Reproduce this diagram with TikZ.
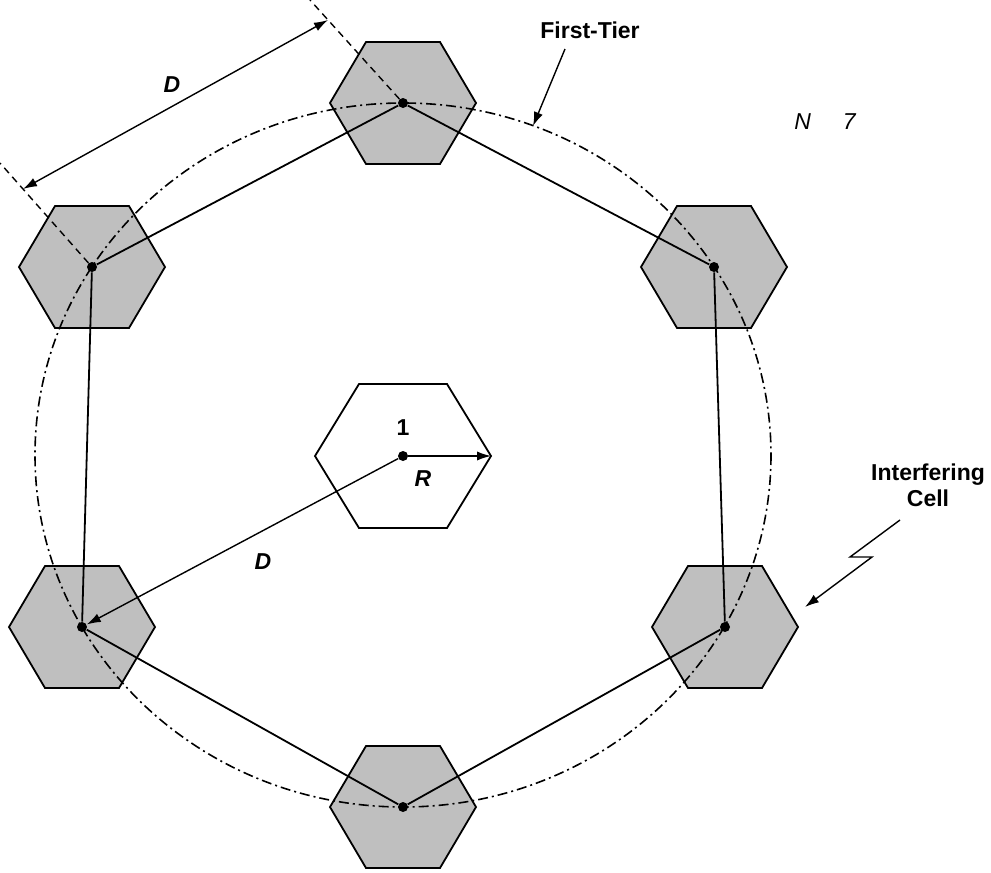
\documentclass[tikz,border=0pt]{standalone}
\usepackage{fontspec}
\setsansfont{Liberation Sans}
\usetikzlibrary{arrows.meta}

\begin{document}
\begin{tikzpicture}[x=0.5pt,y=-0.5pt,
	cell/.style={draw,line width=.9pt,fill=black!25},
	site/.style={circle,fill=black,inner sep=0pt,minimum size=5pt},
	link/.style={line width=.9pt},
	tier/.style={line width=.8pt,dash pattern=on 5pt off 2pt on 1pt off 2pt},
	ext/.style={line width=.7pt,dash pattern=on 3.5pt off 2.5pt},
	arr/.style={line width=.7pt,-{Latex[length=7pt,width=4.6pt]}},
	lbl/.style={font=\sffamily\bfseries\fontsize{11.5}{13}\selectfont,inner sep=1pt}]
	\useasboundingbox (0,0) rectangle (991,873);
	% first tier cells
	\foreach \x/\y in {403/103,714/267,725/627,403/807,82/627,92/267}
		\draw[cell] (\x-73,\y) -- (\x-37,\y-61) -- (\x+37,\y-61) -- (\x+73,\y) -- (\x+37,\y+61) -- (\x-37,\y+61) -- cycle;
	% centre cell
	\draw[link] (315,456) -- (359,384) -- (447,384) -- (491,456) -- (447,528) -- (359,528) -- cycle;
	\draw[tier] (403,455) ellipse [x radius=368, y radius=352];
	\node[site] (c) at (403,456) {};
	\node[site] (t) at (403,103) {};
	\node[site] (ur) at (714,267) {};
	\node[site] (lr) at (725,627) {};
	\node[site] (b) at (403,807) {};
	\node[site] (ll) at (82,627) {};
	\node[site] (ul) at (92,267) {};
	\draw[link] (t) -- (ur) -- (lr) -- (b) -- (ll) -- (ul) -- (t);
	% distance D between co-channel cells
	\coordinate (e1) at (310,0);
	\coordinate (e2) at (0,163);
	\draw[ext] (t) -- (e1);
	\draw[ext] (ul) -- (e2);
	\coordinate (d1) at (328,20);
	\coordinate (d2) at (23,189);
	\draw[arr,{Latex[length=7pt,width=4.6pt]}-{Latex[length=7pt,width=4.6pt]}] (d2) -- (d1);
	\node[lbl] (dtop) at (172,85) {\itshape D};
	\coordinate (cv) at (491,456);
	\draw[arr] (c) -- (cv);
	\draw[arr] (c) -- (ll);
	\node[lbl] (one) at (403,428) {1};
	\node[lbl] (rad) at (423,479) {\itshape R};
	\node[lbl] (dmid) at (263,562) {\itshape D};
	% labels
	\node[lbl] (ft) at (590,30) {First-Tier};
	\coordinate (fs) at (565,49);
	\coordinate (fa) at (533,126);
	\draw[arr] (fs) -- (fa);
	\node[lbl,font=\sffamily\itshape\fontsize{11.5}{13}\selectfont] (nn) at (825,122) {N\hspace{16pt}7};
	\node[lbl,align=center] (ic) at (928,485) {Interfering\\Cell};
	\coordinate (z0) at (900,520);
	\coordinate (z1) at (850,557);
	\coordinate (z2) at (872,557);
	\coordinate (z3) at (805,607);
	\draw[arr] (z0) -- (z1) -- (z2) -- (z3);
\end{tikzpicture}
\end{document}
